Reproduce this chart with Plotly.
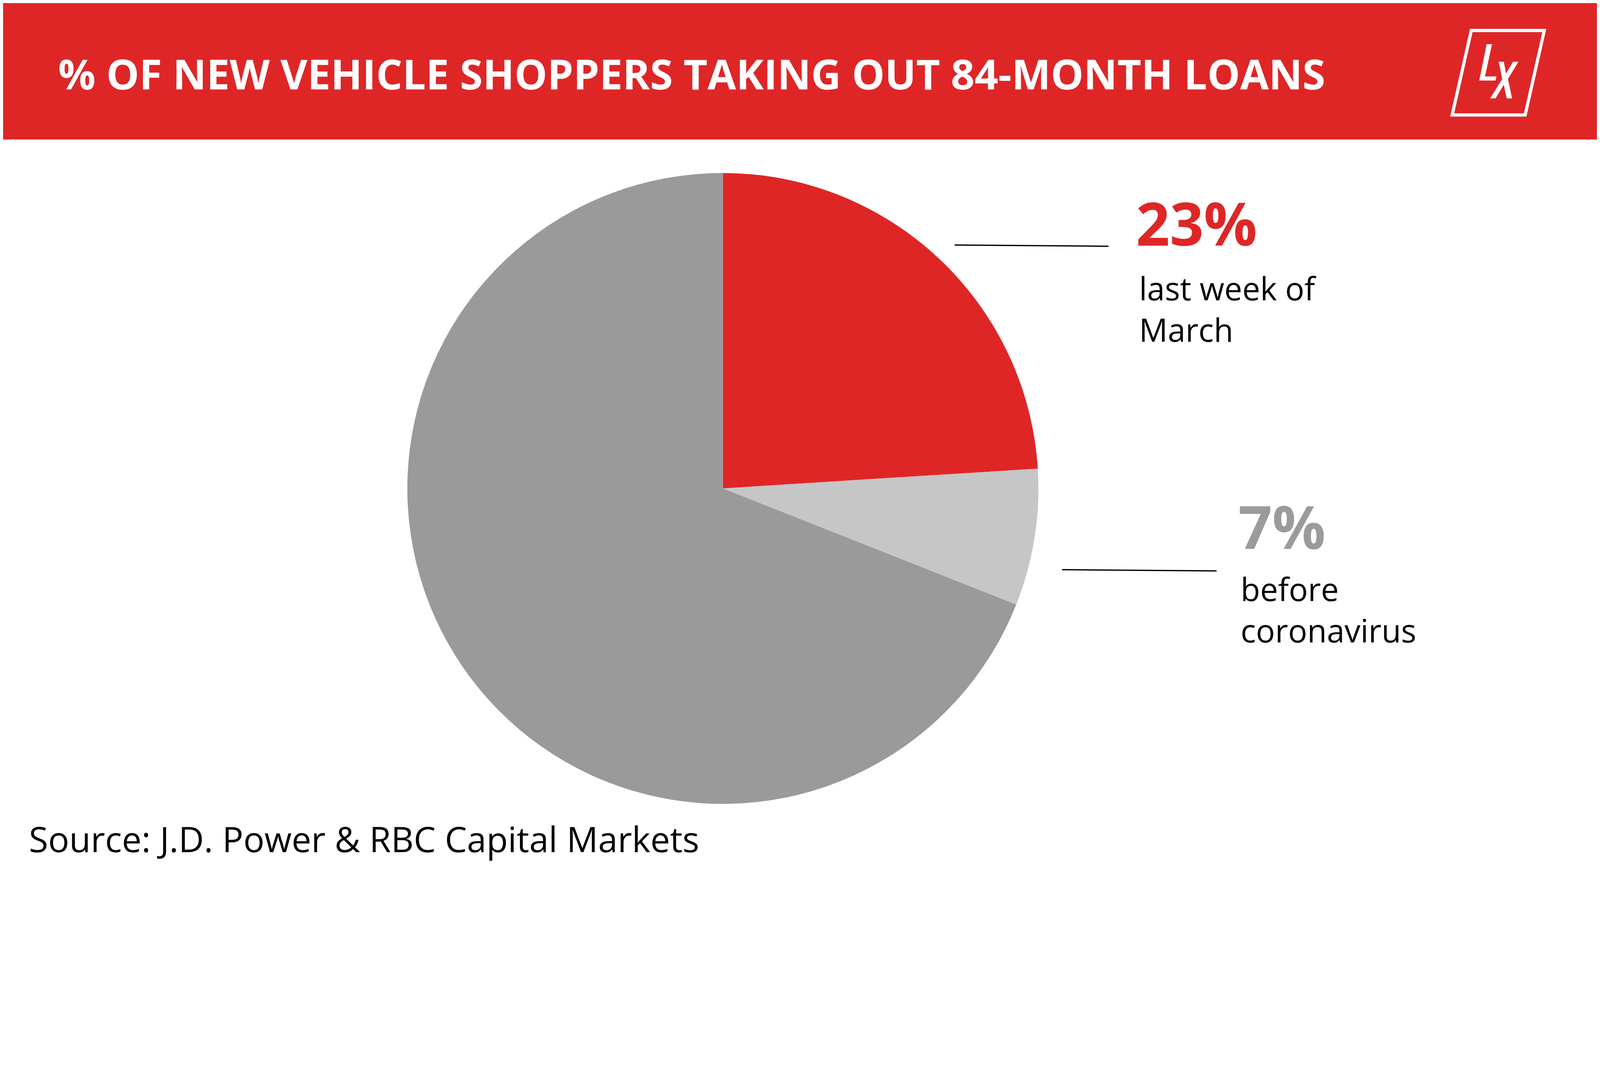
import plotly.graph_objects as go

# design grid of the reference (pixels); the page viewport is only 4096 wide,
# so the whole figure is scaled down uniformly to fit
W, H = 5000, 2727
S = 4080 / W

# chart data
slice_names = ["last week of March", "before coronavirus", "rest"]
slice_values = [24, 7, 69]
slice_colors = ["#DF2627", "#C6C6C6", "#9A9A9A"]
callout_values = ["23%", "7%"]
callout_colors = ["#DF2627", "#9B9B9B"]
callout_lines = [["last week of", "March"], ["before", "coronavirus"]]
title_text = "% OF NEW VEHICLE SHOPPERS TAKING OUT 84-MONTH LOANS"
source_text = "Source: J.D. Power & RBC Capital Markets"

RED = "#DF2627"
FONT = "Open Sans"


def fx(x):
    return x / W


def fy(y):
    return 1 - y / H


def path(points):
    return "M " + " L ".join(f"{fx(x):.5f},{fy(y):.5f}" for x, y in points) + " Z"


def text_at(x, baseline, text, size, color, bold=False):
    # place text so its first baseline lands on the given design row
    return dict(x=fx(x), y=fy(baseline - 1.069 * size), xref="paper", yref="paper",
                xanchor="left", yanchor="top", showarrow=False, text=text, borderpad=0,
                align="left",
                font=dict(family=FONT, size=size * S, color=color, weight=700 if bold else 400))


fig = go.Figure()
fig.add_trace(go.Pie(labels=slice_names, values=slice_values, sort=False, direction="clockwise",
                     marker=dict(colors=slice_colors, line=dict(width=0)),
                     textinfo="none", hoverinfo="skip", showlegend=False,
                     domain=dict(x=[fx(1268), fx(3248)], y=[fy(2513), fy(533)])))

shapes = [
    # header band
    dict(type="rect", xref="paper", yref="paper", x0=0, x1=1, y0=fy(428), y1=1,
         fillcolor=RED, line=dict(width=0), layer="below"),
    # logo frame
    dict(type="path", xref="paper", yref="paper",
         path=path([(4606, 86), (4835, 86), (4775, 351), (4546, 351)]),
         line=dict(color="white", width=10 * S)),
    # logo L
    dict(type="path", xref="paper", yref="paper", line=dict(width=0), fillcolor="white",
         path=path([(4654, 129), (4671, 129), (4649, 230), (4685, 230), (4682, 243), (4631, 243)])),
    # logo X
    dict(type="path", xref="paper", yref="paper", line=dict(width=0), fillcolor="white",
         path=path([(4692, 184), (4708, 184), (4715, 221), (4737, 184), (4754, 184), (4721, 238),
                    (4734, 299), (4717, 299), (4708, 256), (4682, 299), (4665, 299), (4703, 238)])),
    # leader lines
    dict(type="line", xref="paper", yref="paper", x0=fx(2985), y0=fy(759), x1=fx(3468), y1=fy(763),
         line=dict(color="black", width=4 * S)),
    dict(type="line", xref="paper", yref="paper", x0=fx(3322), y0=fy(1778), x1=fx(3807), y1=fy(1782),
         line=dict(color="black", width=4 * S)),
]

annotations = [
    text_at(172, 270, title_text, 130, "white", bold=True),
    text_at(3553, 760, callout_values[0], 186, callout_colors[0], bold=True),
    text_at(3563, 932, "<br>".join(callout_lines[0]), 100, "black"),
    text_at(3874, 1712, callout_values[1], 186, callout_colors[1], bold=True),
    text_at(3881, 1875, "<br>".join(callout_lines[1]), 100, "black"),
    text_at(80, 2663, source_text, 110, "black"),
]

fig.update_layout(width=round(W * S), height=round(H * S), margin=dict(l=0, r=0, t=0, b=0),
                  paper_bgcolor="white", plot_bgcolor="white",
                  shapes=shapes, annotations=annotations)

fig.write_html("out.html")
